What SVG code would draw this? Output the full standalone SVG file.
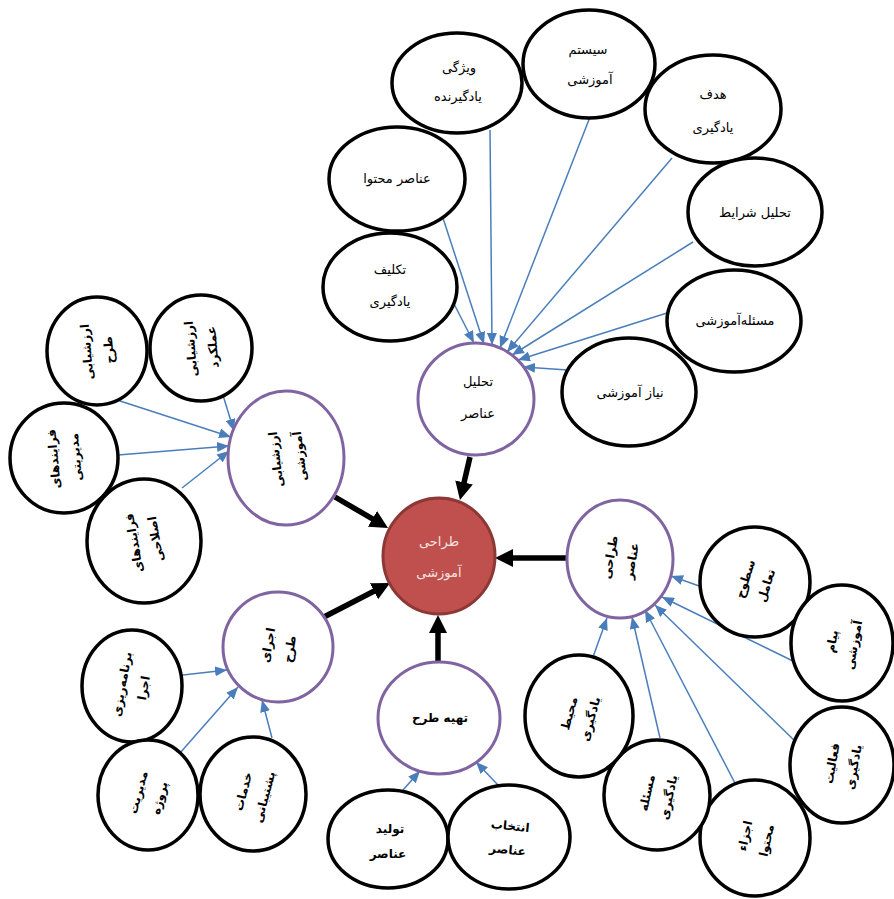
<svg xmlns="http://www.w3.org/2000/svg" width="894" height="899" viewBox="0 0 894 899">
<style>
text{font-family:"DejaVu Sans","Noto Sans",sans-serif;font-size:13px;text-anchor:middle;fill:#000;}
.b{font-weight:bold;font-size:12px;}
.n ellipse{fill:#fff;stroke:#000;stroke-width:3.5;}
.p ellipse{fill:#fff;stroke:#8064a2;stroke-width:3;}
.c ellipse{fill:#c0504d;stroke:#8c3836;stroke-width:3;}
.c text{fill:#f6e4e3;}
.bl{stroke:#4a7ebb;stroke-width:1.5;fill:none;marker-end:url(#ab);}
.bk{stroke:#000;stroke-width:5.5;fill:none;marker-end:url(#ak);}
</style>
<defs>
<marker id="ab" viewBox="0 0 12 10" refX="12" refY="5" markerWidth="12" markerHeight="10" markerUnits="userSpaceOnUse" orient="auto"><path d="M0,0 L12,5 L0,10 z" fill="#4a7ebb"/></marker>
<marker id="ak" viewBox="0 0 18 18" refX="2" refY="9" markerWidth="18" markerHeight="18" markerUnits="userSpaceOnUse" orient="auto"><path d="M0,0 L18,9 L0,18 z" fill="#000"/></marker>
</defs>
<rect width="894" height="899" fill="#fff"/>

<g id="connectors">
<!-- top cluster -->
<line class="bl" x1="452" y1="300" x2="474" y2="343"/>
<line class="bl" x1="442" y1="215" x2="484" y2="344"/>
<line class="bl" x1="490" y1="130" x2="492" y2="345"/>
<line class="bl" x1="590" y1="117" x2="500" y2="348"/>
<line class="bl" x1="672" y1="158" x2="507" y2="352"/>
<line class="bl" x1="693" y1="242" x2="512" y2="355"/>
<line class="bl" x1="667" y1="313" x2="518" y2="360"/>
<line class="bl" x1="568" y1="370" x2="523" y2="367"/>
<!-- left cluster -->
<line class="bl" x1="117" y1="400" x2="231" y2="437"/>
<line class="bl" x1="222" y1="392" x2="234" y2="431"/>
<line class="bl" x1="118" y1="455" x2="229" y2="446"/>
<line class="bl" x1="182" y1="488" x2="229" y2="451"/>
<!-- right cluster -->
<line class="bl" x1="702" y1="587" x2="671" y2="576"/>
<line class="bl" x1="797" y1="663" x2="662" y2="597"/>
<line class="bl" x1="797" y1="743" x2="655" y2="605"/>
<line class="bl" x1="737" y1="787" x2="645" y2="610"/>
<line class="bl" x1="660" y1="738" x2="632" y2="617"/>
<line class="bl" x1="593" y1="657" x2="607" y2="618"/>
<!-- bottom-left cluster -->
<line class="bl" x1="183" y1="675" x2="227" y2="670"/>
<line class="bl" x1="180" y1="753" x2="238" y2="687"/>
<line class="bl" x1="272" y1="738" x2="262" y2="700"/>
<!-- bottom cluster -->
<line class="bl" x1="403" y1="790" x2="420" y2="771"/>
<line class="bl" x1="498" y1="785" x2="476" y2="762"/>
<!-- main black arrows -->
<line class="bk" x1="470" y1="457" x2="463.6" y2="484.4"/>
<line class="bk" x1="335" y1="497" x2="374.2" y2="519.9"/>
<line class="bk" x1="322" y1="618" x2="375.8" y2="590.3"/>
<line class="bk" x1="567" y1="558" x2="511" y2="558"/>
<line class="bk" x1="438" y1="662" x2="438" y2="631"/>
</g>

<!-- central -->
<g id="n-center" class="c"><ellipse cx="439" cy="556" rx="56" ry="58"/>
<text x="439" y="546">طراحی</text><text x="439" y="577">آموزشی</text></g>

<!-- top cluster -->
<g id="n-tahlil-anasor" class="p"><ellipse cx="476" cy="399" rx="58" ry="56"/>
<text x="478" y="386">تحلیل</text><text x="478" y="418">عناصر</text></g>
<g id="n-vizhegi" class="n"><ellipse cx="457" cy="83" rx="65" ry="50"/>
<text x="459" y="72">ویژگی</text><text x="458" y="101">یادگیرنده</text></g>
<g id="n-system" class="n"><ellipse cx="589" cy="64" rx="66" ry="54"/>
<text x="588" y="54">سیستم</text><text x="590" y="84">آموزشی</text></g>
<g id="n-hadaf" class="n"><ellipse cx="713" cy="109" rx="68" ry="54"/>
<text x="713" y="99">هدف</text><text x="713" y="132">یادگیری</text></g>
<g id="n-sharayet" class="n"><ellipse cx="755" cy="212" rx="67" ry="54"/>
<text x="755" y="217">تحلیل شرایط</text></g>
<g id="n-masale-amoozeshi" class="n"><ellipse cx="734" cy="321" rx="67" ry="51"/>
<text x="735" y="325">مسئله‌آموزشی</text></g>
<g id="n-niaz" class="n"><ellipse cx="629" cy="392" rx="67" ry="54"/>
<text x="630" y="397">نیاز آموزشی</text></g>
<g id="n-anasor-mohtava" class="n"><ellipse cx="397" cy="179" rx="68" ry="52"/>
<text x="397" y="183">عناصر محتوا</text></g>
<g id="n-taklif" class="n"><ellipse cx="390" cy="287" rx="67" ry="54"/>
<text x="390" y="274">تکلیف</text><text x="390" y="306">یادگیری</text></g>

<!-- left cluster -->
<g id="n-arzeshyabi-amoozeshi" class="p"><ellipse cx="286" cy="458" rx="58" ry="67"/>
<g transform="translate(286,458) rotate(-97)"><text class="b" y="-6">ارزشیابی</text><text class="b" y="18">آموزشی</text></g></g>
<g id="n-arzeshyabi-tarh" class="n"><ellipse cx="97" cy="351" rx="50" ry="54"/>
<g transform="translate(97,351) rotate(-95)"><text class="b" y="-6">ارزشیابی</text><text class="b" y="16">طرح</text></g></g>
<g id="n-arzeshyabi-amalkard" class="n"><ellipse cx="201" cy="348" rx="51" ry="53"/>
<g transform="translate(201,348) rotate(-95)"><text class="b" y="-6">ارزشیابی</text><text class="b" y="16">عملکرد</text></g></g>
<g id="n-modiriyati" class="n"><ellipse cx="64" cy="458" rx="54" ry="55"/>
<g transform="translate(64,458) rotate(-95)"><text class="b" y="-6">فرایندهای</text><text class="b" y="16">مدیریتی</text></g></g>
<g id="n-eslahi" class="n"><ellipse cx="144" cy="541" rx="57" ry="62"/>
<g transform="translate(144,541) rotate(-100)"><text class="b" y="-6">فرایندهای</text><text class="b" y="16">اصلاحی</text></g></g>

<!-- right cluster -->
<g id="n-tarahi-anasor" class="p"><ellipse cx="620" cy="559" rx="53" ry="59"/>
<g transform="translate(620,559) rotate(-80)"><text class="b" y="-6">طراحی</text><text class="b" y="16">عناصر</text></g></g>
<g id="n-sotooh" class="n"><ellipse cx="755" cy="582" rx="55" ry="55"/>
<g transform="translate(755,582) rotate(-72)"><text class="b" y="-6">سطوح</text><text class="b" y="16">تعامل</text></g></g>
<g id="n-payam" class="n"><ellipse cx="842" cy="643" rx="51" ry="58"/>
<g transform="translate(842,643) rotate(-80)"><text class="b" y="-6">پیام</text><text class="b" y="16">آموزشی</text></g></g>
<g id="n-faaliat" class="n"><ellipse cx="842" cy="765" rx="52" ry="58"/>
<g transform="translate(842,765) rotate(-80)"><text class="b" y="-6">فعالیت</text><text class="b" y="16">یادگیری</text></g></g>
<g id="n-ajza" class="n"><ellipse cx="755" cy="838" rx="55" ry="58"/>
<g transform="translate(755,838) rotate(-78)"><text class="b" y="-6">اجزاء</text><text class="b" y="16">محتوا</text></g></g>
<g id="n-masale-yadgiri" class="n"><ellipse cx="657" cy="795" rx="53" ry="55"/>
<g transform="translate(657,795) rotate(-78)"><text class="b" y="-6">مسئله</text><text class="b" y="16">یادگیری</text></g></g>
<g id="n-mohit" class="n"><ellipse cx="579" cy="716" rx="54" ry="61"/>
<g transform="translate(579,716) rotate(-75)"><text class="b" y="-6">محیط</text><text class="b" y="16">یادگیری</text></g></g>

<!-- bottom-left cluster -->
<g id="n-ejraye-tarh" class="p"><ellipse cx="278" cy="647" rx="55" ry="55"/>
<g transform="translate(278,647) rotate(-80)"><text class="b" y="-6">اجرای</text><text class="b" y="16">طرح</text></g></g>
<g id="n-barnamerizi" class="n"><ellipse cx="132" cy="686" rx="50" ry="56"/>
<g transform="translate(132,686) rotate(-80)"><text class="b" y="-6">برنامه‌ریزی</text><text class="b" y="16">اجرا</text></g></g>
<g id="n-modiriat" class="n"><ellipse cx="148" cy="795" rx="50" ry="55"/>
<g transform="translate(148,795) rotate(-75)"><text class="b" y="-6">مدیریت</text><text class="b" y="16">پروژه</text></g></g>
<g id="n-khadamat" class="n"><ellipse cx="253" cy="794" rx="53" ry="57"/>
<g transform="translate(253,794) rotate(-75)"><text class="b" y="-6">خدمات</text><text class="b" y="16">پشتیبانی</text></g></g>

<!-- bottom cluster -->
<g id="n-tahie-tarh" class="p"><ellipse cx="439" cy="718" rx="61" ry="56"/>
<text class="b" x="440" y="722">تهیه طرح</text></g>
<g id="n-tolid" class="n"><ellipse cx="388" cy="839" rx="60" ry="49"/>
<text class="b" x="390" y="833">تولید</text><text class="b" x="388" y="858">عناصر</text></g>
<g id="n-entekhab" class="n"><ellipse cx="509" cy="837" rx="61" ry="52"/>
<g transform="translate(509,837) rotate(6)"><text class="b" y="-7">انتخاب</text><text class="b" y="17">عناصر</text></g></g>
</svg>
